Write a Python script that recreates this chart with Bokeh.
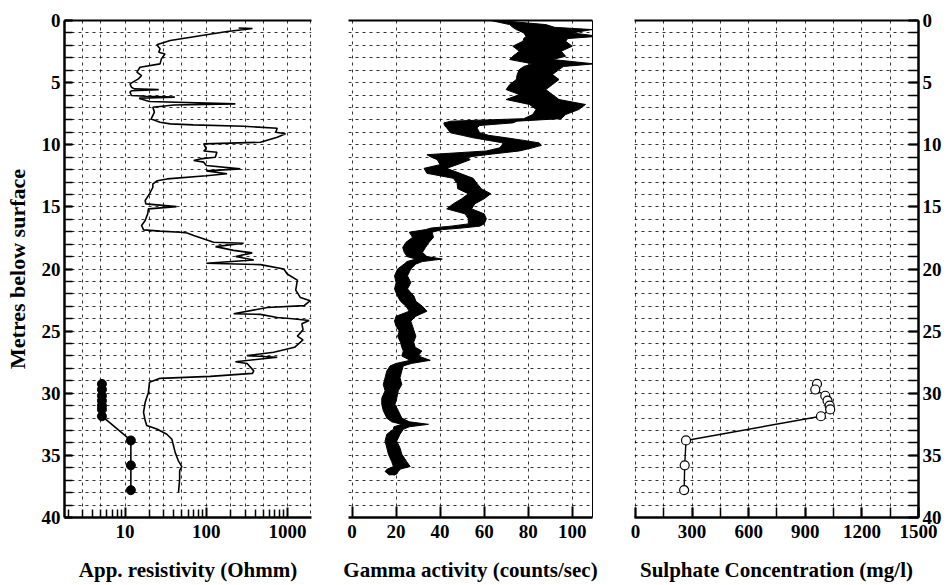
from bokeh.plotting import figure
from bokeh.models import Range1d, LinearAxis, FixedTicker, ColumnDataSource
from bokeh.layouts import row
from bokeh.embed import file_html
from bokeh.resources import INLINE

FONT = "Liberation Serif"

# ---------------- data ----------------
depth_ticks = [0, 5, 10, 15, 20, 25, 30, 35, 40]
depth_minor = list(range(0, 41))
depth_grid = list(range(1, 40))

res_ticks = [10, 100, 1000]
res_minor = [2, 3, 4, 5, 6, 7, 8, 9, 20, 30, 40, 50, 60, 70, 80, 90,
             200, 300, 400, 500, 600, 700, 800, 900]
res_grid = [3, 5, 10, 20, 30, 50, 100, 200, 300, 500, 1000, 1900]

gamma_ticks = [0, 20, 40, 60, 80, 100]
sulphate_ticks = [0, 300, 600, 900, 1200, 1500]
sulphate_minor = [0, 150, 300, 450, 600, 750, 900, 1050, 1200, 1350, 1500]
sulphate_grid = [0, 150, 300, 450, 600, 750, 900, 1050, 1200, 1350]

# apparent resistivity log (depth m, Ohmm)
res_depth = [0.60, 0.65, 0.75, 0.89, 1.61, 1.96, 2.28, 2.55, 2.69, 3.09, 3.49, 3.76,
             4.16, 4.43, 4.70, 5.10, 5.37, 5.50, 5.56, 5.65, 5.77, 6.04, 6.10, 6.17,
             6.25, 6.30, 6.52, 6.71, 6.80, 6.98, 7.38, 7.92, 8.19, 8.32, 8.40, 8.51,
             8.67, 8.99, 9.12, 9.39, 9.80, 9.93, 10.33, 10.50, 10.60, 11.00, 11.14,
             11.27, 11.40, 11.67, 11.94, 12.10, 12.34, 12.50, 12.75, 12.90, 13.15,
             13.42, 13.95, 14.49, 14.76, 14.98, 15.16, 15.56, 16.10, 16.50, 16.85,
             16.95, 17.04, 17.10, 17.30, 17.85, 17.93, 18.20, 18.50, 18.70, 19.00,
             19.27, 19.54, 19.65, 20.00, 20.40, 20.90, 21.70, 22.30, 22.55, 22.95,
             23.10, 23.60, 23.65, 23.90, 24.00, 24.15, 24.40, 24.90, 25.40, 25.70,
             26.30, 26.70, 26.97, 27.10, 27.46, 27.60, 28.20, 28.40, 28.64, 28.80,
             29.12, 29.93, 30.73, 31.54, 32.20, 32.60, 32.88, 33.30, 33.70, 34.76,
             35.40, 35.90, 36.20, 36.90, 37.98]
res_value = [250, 370, 280, 180, 36, 24.6, 27, 26, 31, 28, 27, 15.3,
             14, 16, 14.6, 11.5, 12, 13, 26, 12, 11.5, 12, 18, 41,
             15, 15.3, 20, 228, 40, 22, 23, 21, 27, 36, 69, 288,
             746, 715, 945, 746, 464, 93, 100, 93, 135, 129, 84,
             70, 93, 100, 262, 100, 180, 100, 33, 25, 22,
             22, 20, 17.7, 18, 43, 19.4, 19, 17.7, 16, 16.9,
             27, 48, 58, 70, 123, 288, 130, 217, 367, 230,
             384, 100, 464, 900, 990, 1320, 1260, 1440, 1900, 1600,
             563, 217, 464, 746, 1150, 1840, 1500, 1550, 1320, 1550,
             1220, 675, 318, 746, 228, 318, 384, 370, 112, 27,
             20, 19.4, 17.7, 16.9, 17.7, 18.5, 24.6, 32.7, 37.7, 41.4,
             45, 50, 47, 47, 45.5]

# water samples (depth m): resistivity (Ohmm) and sulphate (mg/l)
sample_depth = [29.25, 29.7, 30.2, 30.6, 31.0, 31.3, 31.85, 33.8, 35.8, 37.8]
sample_resistivity = [5.2, 5.2, 5.2, 5.2, 5.2, 5.2, 5.2, 11.8, 11.8, 11.8]
sulphate = [962, 953, 1006, 1018, 1029, 1032, 983, 268, 261, 258]

# gamma log envelope (depth m, low / high counts/sec)
gamma_depth = [0.0, 0.33, 0.55, 0.73, 1.0, 1.27, 1.45, 1.67, 2.07, 2.47, 2.88, 3.14,
               3.49, 3.7, 3.95, 4.35, 4.75, 5.16, 5.56, 5.96, 6.36, 6.76, 7.16, 7.57,
               7.9, 8.1, 8.24, 8.45, 8.64, 9.04, 9.24, 9.44, 9.65, 9.85, 10.05, 10.25,
               10.5, 10.8, 11.0, 11.2, 11.6, 11.9, 12.3, 12.7, 13.1, 13.54, 13.94,
               14.35, 14.75, 15.16, 15.56, 15.96, 16.37, 16.55, 16.7, 16.83, 17.04,
               17.45, 17.85, 18.26, 18.66, 19.0, 19.2, 19.4, 19.6, 20.0, 20.55, 21.1,
               21.6, 22.2, 22.6, 23.0, 23.4, 23.8, 24.2, 24.6, 25.0, 25.4, 25.9, 26.3,
               26.6, 27.0, 27.35, 27.6, 27.8, 28.2, 28.75, 29.3, 29.8, 30.4, 30.9,
               31.4, 32.0, 32.3, 32.5, 32.7, 32.9, 33.3, 33.85, 34.4, 34.9, 35.5,
               35.9, 36.1, 36.3, 36.5, 36.6]
gamma_low = [63, 71.6, 73, 74.6, 78, 79, 78, 77.6, 73, 76, 73, 71.6,
             82, 78, 76, 75, 74.6, 71.6, 70, 76, 70, 80.6, 83.6, 82,
             78, 45, 41.7, 42, 43, 44.7, 50, 55, 62, 68.6, 68, 67,
             61, 34, 36, 38.7, 40, 32.7, 34, 46, 47.7, 48, 52.8,
             49.8, 46, 43, 51.3, 52.8, 52.8, 45, 36, 33.4, 26,
             27.5, 24.5, 23, 23.7, 25, 29, 25, 23.7, 20.7, 19.3, 20,
             19.3, 20.7, 22, 24.5, 26, 20, 19.3, 20, 21.5, 20.7, 22, 22.6,
             23.3, 22.6, 26.4, 20, 17.3, 15.8, 15, 14.2, 15, 13.5, 13.5,
             14.2, 15.8, 18, 22.6, 19, 18.8, 15.8, 15, 15.8, 16.5, 18,
             18.8, 16, 15, 16.5, 17]
gamma_high = [67, 88, 92, 109, 100, 112, 98, 97, 100, 95, 97, 91,
              110, 96, 94, 91, 94, 91, 88, 91, 94, 106, 103, 97,
              95, 75, 73, 58, 56.7, 58, 62, 70, 78, 85, 86, 82,
              76, 61, 52, 53.7, 47.7, 43, 49, 55, 56.7, 58.7, 63,
              60, 55.8, 54.3, 60, 61, 60, 58, 50, 41, 36.4,
              37, 35, 33.4, 32, 34, 41, 32, 29, 26.7, 25.2, 26.7,
              25.2, 28.2, 29, 32, 34, 29, 26.7, 27.5, 28.2, 29, 28, 28.7,
              31.7, 30, 35.5, 27, 23.3, 22.6, 21.8, 22.6, 21, 20.3, 19.5,
              21, 22.6, 26, 34.7, 26, 23.3, 21.8, 20.3, 21.8, 22.6, 24.8,
              26.4, 22, 21, 20.3, 19]

FRAME_H = 497
TOP = 20
BOTTOM = 66


def style_axis(ax, tick_len):
    ax.axis_line_width = 2.5
    ax.axis_line_color = "black"
    ax.major_tick_line_color = "black"
    ax.minor_tick_line_color = "black"
    ax.major_tick_line_width = 2
    ax.minor_tick_line_width = 1.5
    ax.major_tick_in = tick_len
    ax.major_tick_out = 0
    ax.minor_tick_in = tick_len - 2
    ax.minor_tick_out = 0
    ax.major_label_text_font = FONT
    ax.major_label_text_font_style = "bold"
    ax.major_label_text_font_size = "19px"
    ax.major_label_text_color = "black"
    ax.major_label_standoff = 4
    ax.axis_label_text_font = FONT
    ax.axis_label_text_font_style = "bold"
    ax.axis_label_text_font_size = "21px"
    ax.axis_label_text_color = "black"


def border_axis(p, side, width):
    ax = LinearAxis(ticker=FixedTicker(ticks=[]), axis_line_width=width,
                    axis_line_color="black", major_tick_line_color=None,
                    minor_tick_line_color=None, major_label_text_font_size="0px")
    p.add_layout(ax, side)


def style_grid(p, xt, yt):
    for g in p.xgrid:
        g.ticker = FixedTicker(ticks=xt)
    for g in p.ygrid:
        g.ticker = FixedTicker(ticks=yt)
    p.grid.grid_line_color = "black"
    p.grid.grid_line_dash = "3 4"
    p.grid.grid_line_width = 1
    p.grid.grid_line_alpha = 0.8


common = dict(frame_height=FRAME_H, min_border_top=TOP, min_border_bottom=BOTTOM,
              output_backend="svg", toolbar_location=None, outline_line_color=None,
              background_fill_color="white", border_fill_color="white",
              y_range=Range1d(40, 0))

# ---------------- panel 1: resistivity ----------------
p1 = figure(x_axis_type="log", x_range=Range1d(1.8, 1970), frame_width=247,
            min_border_left=64, min_border_right=18, **common)
style_grid(p1, res_grid, depth_grid)
xa = p1.xaxis[0]
style_axis(xa, 10)
xa.ticker = FixedTicker(ticks=res_ticks, minor_ticks=res_minor)
xa.major_label_overrides = {10: "10", 100: "100", 1000: "1000"}
xa.axis_label = "App. resistivity (Ohmm)"
xa.major_label_standoff = 7
xa.axis_label_standoff = 17
ya = p1.yaxis[0]
style_axis(ya, 8)
ya.minor_tick_in = 8
ya.ticker = FixedTicker(ticks=depth_ticks, minor_ticks=depth_minor)
ya.axis_label = "Metres below surface"
ya.axis_label_text_font_size = "22px"
ya.axis_label_standoff = 9
border_axis(p1, "above", 2)

p1.line(res_value, res_depth, line_color="black", line_width=1.6)
p1.line(sample_resistivity, sample_depth, line_color="black", line_width=1.6)
p1.scatter(sample_resistivity, sample_depth, size=9, marker="circle",
           fill_color="black", line_color="black")

# ---------------- panel 2: gamma ----------------
p2 = figure(x_range=Range1d(-1.6, 109.2), frame_width=244, y_axis_location=None,
            min_border_left=19, min_border_right=21, **common)
style_grid(p2, gamma_ticks, depth_grid)
xa2 = p2.xaxis[0]
style_axis(xa2, 11)
xa2.ticker = FixedTicker(ticks=gamma_ticks)
xa2.axis_label = "Gamma activity (counts/sec)"
xa2.major_label_standoff = 7
xa2.axis_label_standoff = 17
border_axis(p2, "above", 2)
border_axis(p2, "right", 1)

gsrc = ColumnDataSource(dict(d=gamma_depth, lo=gamma_low, hi=gamma_high))
p2.harea(y="d", x1="lo", x2="hi", source=gsrc, fill_color="black")
p2.line(x="lo", y="d", source=gsrc, line_color="black", line_width=1)
p2.line(x="hi", y="d", source=gsrc, line_color="black", line_width=1)

# ---------------- panel 3: sulphate ----------------
p3 = figure(x_range=Range1d(-5, 1500), frame_width=284, y_axis_location="right",
            min_border_left=21, min_border_right=28, **common)
style_grid(p3, sulphate_grid, depth_grid)
xa3 = p3.xaxis[0]
style_axis(xa3, 10)
xa3.minor_tick_in = 10
xa3.ticker = FixedTicker(ticks=sulphate_ticks, minor_ticks=sulphate_minor)
xa3.axis_label = "Sulphate Concentration (mg/l)"
xa3.major_label_standoff = 7
xa3.axis_label_standoff = 17
ya3 = p3.yaxis[0]
style_axis(ya3, 10)
ya3.minor_tick_in = 10
ya3.ticker = FixedTicker(ticks=depth_ticks, minor_ticks=depth_minor)
border_axis(p3, "above", 2)

p3.line(sulphate, sample_depth, line_color="black", line_width=1.4)
p3.scatter(sulphate, sample_depth, size=9, marker="circle",
           fill_color="white", line_color="black", line_width=1.2)

layout = row(p1, p2, p3)
open("out.html", "w").write(file_html(layout, INLINE))
